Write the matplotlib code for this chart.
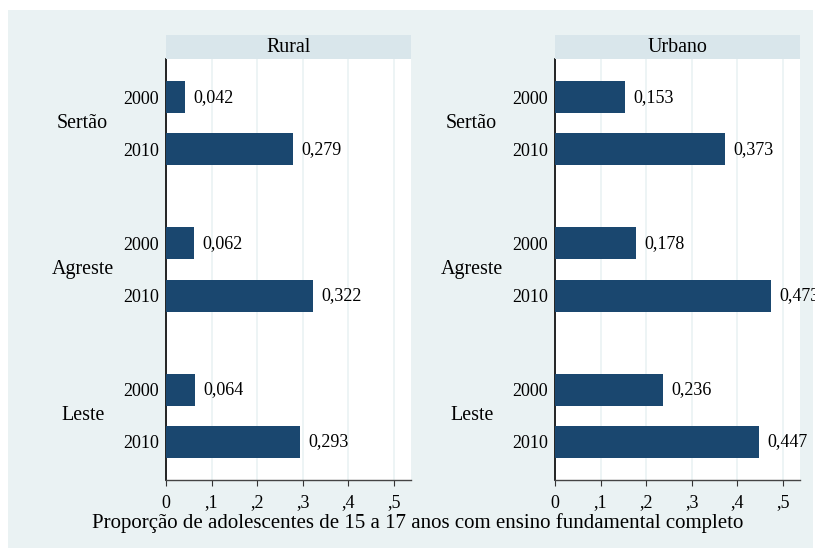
import matplotlib.pyplot as plt
import numpy as np
from matplotlib.patches import Rectangle
from matplotlib.ticker import FuncFormatter

plt.rcParams['font.family'] = ['Liberation Serif', 'DejaVu Serif']

regions = ['Sertão', 'Agreste', 'Leste']
years = ['2000', '2010']
panels = ['Rural', 'Urbano']
rural_2000 = [0.042, 0.062, 0.064]
rural_2010 = [0.279, 0.322, 0.293]
urbano_2000 = [0.153, 0.178, 0.236]
urbano_2010 = [0.373, 0.473, 0.447]
xlabel = 'Proporção de adolescentes de 15 a 17 anos com ensino fundamental completo'

BAR = '#1a476f'
BG = '#eaf2f3'
HEAD = '#d9e6eb'

W, H = 815, 550
fig = plt.figure(figsize=(W / 100, H / 100), dpi=100)
fig.patches.append(Rectangle((8 / W, 2 / H), 805 / W, 538 / H, transform=fig.transFigure,
                             facecolor=BG, edgecolor='none', zorder=-10))

group_gap = 2.8
pos_2000 = np.arange(len(regions)) * group_gap
pos_2010 = pos_2000 + 1


def fmt(v, _):
    if v == 0:
        return '0'
    return ('%.1f' % v).lstrip('0').replace('.', ',')


data = {'Rural': (rural_2000, rural_2010), 'Urbano': (urbano_2000, urbano_2010)}
lefts = [166, 555]
for name, left in zip(panels, lefts):
    ax = fig.add_axes([left / W, 1 - 480 / H, 245 / W, 421 / H])
    ax.set_facecolor('white')
    v2000, v2010 = data[name]
    ax.barh(pos_2000, v2000, height=0.615, color=BAR, zorder=3)
    ax.barh(pos_2010, v2010, height=0.615, color=BAR, zorder=3)
    for p, v in list(zip(pos_2000, v2000)) + list(zip(pos_2010, v2010)):
        ax.annotate(('%.3f' % v).replace('.', ','), (v, p), xytext=(6, 0),
                    textcoords='offset points', va='center', ha='left', fontsize=13,
                    annotation_clip=False)
    ax.set_xlim(0, 0.537)
    ax.set_ylim(pos_2010[-1] + 0.73, -0.73)
    ax.set_xticks(np.arange(0, 0.51, 0.1))
    ax.xaxis.set_major_formatter(FuncFormatter(fmt))
    ax.set_yticks(np.concatenate([pos_2000, pos_2010]))
    ax.set_yticklabels([years[0]] * 3 + [years[1]] * 3)
    ax.tick_params(axis='y', length=0, pad=5, labelsize=13)
    ax.tick_params(axis='x', length=4.5, width=0.8, color='#333333', labelsize=13, pad=6)
    ax.grid(axis='x', color=BG, linewidth=1.2, zorder=0)
    for s in ['top', 'right']:
        ax.spines[s].set_visible(False)
    ax.spines['left'].set_color('black')
    ax.spines['left'].set_linewidth(1.2)
    ax.spines['bottom'].set_color('#444444')
    ax.spines['bottom'].set_linewidth(1.0)
    for r, c in zip(regions, (pos_2000 + pos_2010) / 2):
        ax.annotate(r, (0, c), xycoords=ax.get_yaxis_transform(), xytext=(-60, 0),
                    textcoords='offset points', ha='center', va='center', fontsize=14.4,
                    annotation_clip=False)
    # header strip
    hx = fig.add_axes([left / W, 1 - 59 / H, 245 / W, 24 / H])
    hx.set_facecolor(HEAD)
    hx.set_xticks([])
    hx.set_yticks([])
    for s in hx.spines.values():
        s.set_visible(False)
    hx.text(0.5, 0.5, name, ha='center', va='center', fontsize=14.4, transform=hx.transAxes)

fig.text(418 / W, 1 - 523 / H, xlabel, ha='center', va='center', fontsize=15)

fig.savefig('out.png', dpi=100)
